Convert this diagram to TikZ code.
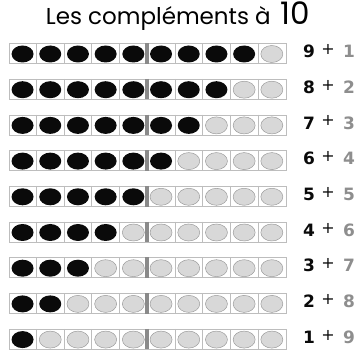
\documentclass[tikz,border=0pt]{standalone}
\usepackage{fontspec}
\setmainfont{DejaVu Sans}
\newfontfamily\titlefont{Poppins}
\usetikzlibrary{positioning,calc,shapes.geometric}
\definecolor{Ink}{HTML}{0A0A0A}
\definecolor{Frame}{HTML}{BDBDBD}
\definecolor{Bead}{HTML}{D8D8D8}
\definecolor{Rim}{HTML}{9C9C9C}
\definecolor{Bar}{HTML}{8A8A8A}
\definecolor{Muted}{HTML}{8E8E8E}
\tikzset{rowbox/.style={draw=Frame,line width=.6pt,minimum width=277pt,minimum height=20pt,inner sep=0pt},sep/.style={draw=Frame,line width=.6pt},mid/.style={draw=Bar,line width=3.5pt},full/.style={ellipse,fill=Ink,minimum width=22pt,minimum height=17pt,inner sep=0pt},empty/.style={ellipse,draw=Rim,line width=.5pt,fill=Bead,minimum width=22pt,minimum height=17pt,inner sep=0pt},lhs/.style={font=\fontsize{17}{17}\selectfont\bfseries,text=Ink,inner sep=0pt},rhs/.style={font=\fontsize{17}{17}\selectfont\bfseries,text=Muted,inner sep=0pt},plus/.style={font=\fontsize{16}{16}\selectfont,text=Ink,inner sep=0pt}}

\begin{document}
\begin{tikzpicture}[x=1pt,y=-1pt]
\useasboundingbox (0,0) rectangle (360,353);
\node[inner sep=0pt] (title) at (178,16) {\titlefont\fontsize{23}{23}\selectfont Les compléments à\, \fontsize{31}{31}\selectfont 10};
\foreach \r in {1,...,9}{
  \pgfmathsetmacro\yc{53.5+(\r-1)*35.7}
  \pgfmathtruncatemacro\k{10-\r}
  \node[rowbox] (row\r) at (147.5,\yc) {};
  \foreach \i in {1,2,3,4,6,7,8,9}
    \draw[sep] ($(row\r.north west)+(\i*27.7,0)$) -- ($(row\r.south west)+(\i*27.7,0)$);
  \draw[mid] ($(row\r.north west)+(138.5,0)$) -- ($(row\r.south west)+(138.5,0)$);
  \foreach \i in {1,...,10}{
    \ifnum\i>\k\relax\def\st{empty}\else\def\st{full}\fi
    \node[\st] (b\r-\i) at ($(row\r.west)+({(\i-0.5)*27.7},0.5)$) {};
  }
  \node[lhs] (l\r) at (309,\yc-2) {\k};
  \node[plus] (p\r) at (328,\yc-4) {+};
  \node[rhs] (g\r) at (349,\yc-2) {\r};
}
\end{tikzpicture}
\end{document}
